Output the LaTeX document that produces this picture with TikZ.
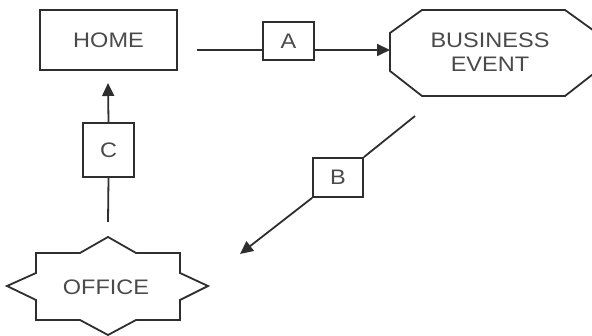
\documentclass[tikz,border=0pt]{standalone}
\usepackage{fontspec}
\setmainfont[FakeStretch=1.12]{Liberation Sans}
\usepackage{xcolor}
\usepackage{tikz}
\usetikzlibrary{arrows.meta}

\definecolor{linegray}{HTML}{2E2E2E}
\definecolor{textgray}{HTML}{4A4A4A}

\begin{document}
\begin{tikzpicture}[x=1pt, y=-1pt,
  every node/.style={text=textgray, font=\fontsize{21}{24}\selectfont},
  box/.style={rectangle, draw=linegray, line width=1.8pt, inner sep=0pt},
  link/.style={draw=linegray, line width=1.8pt},
  arrow/.style={link, -{Triangle[length=13pt, width=12pt]}}]

\useasboundingbox (0,0) rectangle (592,336);

\node[box, minimum width=137pt, minimum height=60pt] (home) at (108.5,40) {HOME};
\node[box, minimum width=51pt, minimum height=38pt] (a) at (288.5,41) {A};
\node[box, minimum width=50pt, minimum height=39pt] (b) at (338,177.5) {B};
\node[box, minimum width=51pt, minimum height=54pt] (c) at (108.5,150) {C};
\node[align=center] (event) at (490,52) {BUSINESS\\EVENT};
\node (office) at (106,287) {OFFICE};

% outlines
\draw[link] (390,33) -- (422,10) -- (565,10) -- (597,33) -- (597,71)
  -- (565,96) -- (422,96) -- (390,71) -- cycle;
\draw[link] (108,237) -- (136,253) -- (180,253) -- (180,273) -- (208,286)
  -- (180,300) -- (180,320) -- (136,320) -- (108,335) -- (80,320)
  -- (36,320) -- (36,300) -- (7,286) -- (36,273) -- (36,253)
  -- (80,253) -- cycle;

\coordinate (homeout) at (197,50);
\coordinate (eventin) at (390,50);
\coordinate (eventout) at (415,116);
\coordinate (officein) at (240,254);
\coordinate (officeout) at (108,222);
\coordinate (homein) at (108,83);

\draw[link] (homeout) -- (homeout -| a.west);
\draw[arrow] (homeout -| a.east) -- (eventin);
\draw[link] (eventout) -- (b.north east);
\draw[arrow] (b.south west) -- (officein);
\draw[link] (officeout) -- (c.south);
\draw[arrow] (c.north) -- (homein);
\end{tikzpicture}
\end{document}
